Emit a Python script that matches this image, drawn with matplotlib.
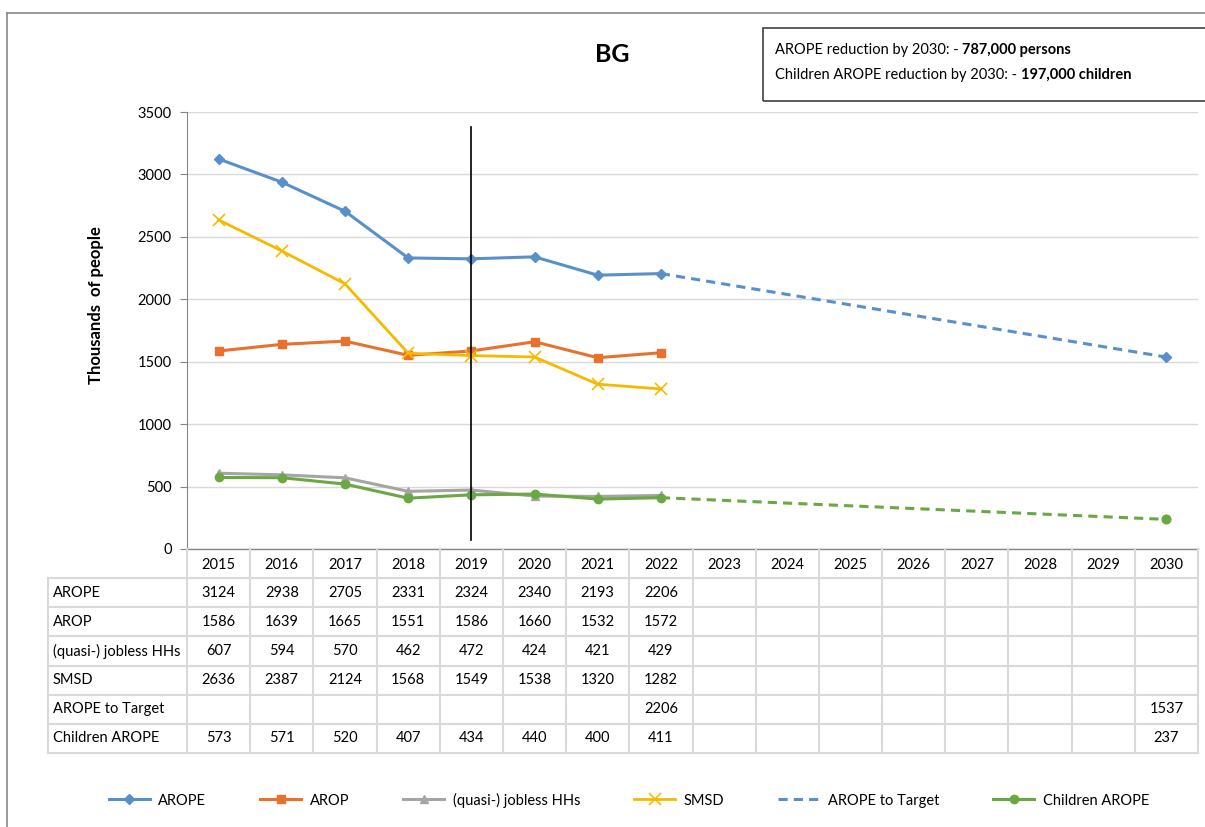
import numpy as np
import matplotlib.pyplot as plt
from matplotlib.lines import Line2D

plt.rcParams['font.family'] = ['Lato', 'DejaVu Sans']

years = [str(y) for y in range(2015, 2031)]
nan = np.nan
arope = [3124, 2938, 2705, 2331, 2324, 2340, 2193, 2206] + [nan] * 8
arop = [1586, 1639, 1665, 1551, 1586, 1660, 1532, 1572] + [nan] * 8
jobless = [607, 594, 570, 462, 472, 424, 421, 429] + [nan] * 8
smsd = [2636, 2387, 2124, 1568, 1549, 1538, 1320, 1282] + [nan] * 8
target = [nan] * 7 + [2206] + [nan] * 7 + [1537]
children = [573, 571, 520, 407, 434, 440, 400, 411] + [nan] * 7 + [237]

row_names = ["AROPE", "AROP", "(quasi-) jobless HHs", "SMSD", "AROPE to Target", "Children AROPE"]
rows = [arope, arop, jobless, smsd, target, children]

blue, orange, gray, gold, green = "#5890CB", "#E8712D", "#A5A5A5", "#F5BA00", "#6AA843"

W, H = 1205, 827
fig = plt.figure(figsize=(W / 100, H / 100), dpi=100)

def px(x0, y0, x1, y1):
    return [x0 / W, 1 - y1 / H, (x1 - x0) / W, (y1 - y0) / H]

# outer chart frame
fig.add_artist(Line2D([7 / W, 7 / W], [0, 1 - 13 / H], color="#888888", lw=1.2))
fig.add_artist(Line2D([7 / W, 1], [1 - 13 / H, 1 - 13 / H], color="#888888", lw=1.2))

ax = fig.add_axes(px(187, 112, 1198, 549))
x = np.arange(len(years))
ax.set_xlim(-0.5, len(years) - 0.5)
ax.set_ylim(0, 3500)
ax.set_yticks(range(0, 3501, 500))
ax.tick_params(axis="y", labelsize=10.5, color="#868686", length=5, pad=6)
ax.set_xticks([])
ax.grid(axis="y", color="#d9d9d9", lw=1)
ax.set_axisbelow(True)
for s in ["top", "right", "bottom"]:
    ax.spines[s].set_visible(False)
ax.spines["left"].set_color("#868686")
ax.set_ylabel("Thousands  of people", fontsize=12, fontweight="bold")
ax.yaxis.set_label_coords(-0.082, 0.558)

def series(vals):
    return np.array(vals, dtype=float)

ax.plot(x, series(arope), color=blue, lw=2.2, marker="D", ms=5.5, zorder=4)
ax.plot(x, series(arop), color=orange, lw=2.2, marker="s", ms=6, zorder=4)
ax.plot(x, series(jobless), color=gray, lw=2.2, marker="^", ms=6, zorder=3)
ax.plot(x, series(smsd), color=gold, lw=2.0, marker="x", ms=8, mew=1.2, zorder=4)
t = series(target)
m = ~np.isnan(t)
ax.plot(x[m], t[m], color=blue, lw=2.2, ls=(0, (3, 2)), marker="D", ms=5.5,
        markevery=[1], zorder=3)
c = series(children)
ax.plot(x, c, color=green, lw=2.2, marker="o", ms=6, zorder=5)
cm = ~np.isnan(c)
ax.plot(x[cm][-2:], c[cm][-2:], color=green, lw=2.2, ls=(0, (3, 2)), marker="o", ms=6,
        markevery=[1], zorder=3)

# marker line at 2019
ax.plot([4, 4], [70, 3380], color="black", lw=1.2, zorder=6)

fig.text(612 / W, 1 - 55 / H, "BG", fontsize=18, fontweight="bold", ha="center", va="center")

# data table below the axis
tab = fig.add_axes(px(48, 549, 1198, 753))
x_left = -0.5 - (187 - 48) / (1011 / 16)
tab.set_xlim(x_left, len(years) - 0.5)
tab.set_ylim(7, 0)
tab.axis("off")
lc = "#d9d9d9"
tab.plot([-0.5, len(years) - 0.5], [0, 0], color="#868686", lw=1, clip_on=False)
tab.plot([x_left, len(years) - 0.5], [1, 1], color=lc, lw=1.5, clip_on=False)
for r in range(2, 8):
    tab.plot([x_left, len(years) - 0.5], [r, r], color=lc, lw=1.5, clip_on=False)
tab.plot([x_left, x_left], [1, 7], color=lc, lw=1.5, clip_on=False)
for i in range(len(years) + 1):
    tab.plot([i - 0.5, i - 0.5], [0, 7], color=lc, lw=1.5, clip_on=False)
for i, yr in enumerate(years):
    tab.text(i, 0.55, yr, ha="center", va="center", fontsize=10.5)
for r, (name, vals) in enumerate(zip(row_names, rows), start=1):
    tab.text(x_left + 0.08, r + 0.5, name, ha="left", va="center", fontsize=10.5)
    for i, v in enumerate(vals):
        if not np.isnan(v):
            tab.text(i, r + 0.5, f"{int(v)}", ha="center", va="center", fontsize=10.5)

# annotation box: normal text followed by a bold part
renderer = fig.canvas.get_renderer()
for ypx, plain, bold in [(50, "AROPE reduction by 2030: - ", "787,000 persons"),
                         (75, "Children AROPE reduction by 2030: - ", "197,000 children")]:
    t1 = fig.text(775 / W, 1 - ypx / H, plain, fontsize=10.5, va="center")
    bb = t1.get_window_extent(renderer)
    fig.text(bb.x1 / W, 1 - ypx / H, bold, fontsize=10.5, va="center", fontweight="bold")
fig.add_artist(plt.Rectangle((763 / W, 1 - 101 / H), 460 / W, 73 / H, fill=False,
                             ec="#404040", lw=1.2, transform=fig.transFigure))

handles = [
    Line2D([], [], color=blue, lw=2.2, marker="D", ms=5.5),
    Line2D([], [], color=orange, lw=2.2, marker="s", ms=6),
    Line2D([], [], color=gray, lw=2.2, marker="^", ms=6),
    Line2D([], [], color=gold, lw=2.0, marker="x", ms=8, mew=1.2),
    Line2D([], [], color=blue, lw=2.2, ls=(0, (3, 2))),
    Line2D([], [], color=green, lw=2.2, marker="o", ms=6),
]
fig.legend(handles, row_names, loc="center", bbox_to_anchor=(0.522, 1 - 800 / H), ncol=6,
           frameon=False, fontsize=10.5, columnspacing=3.7, handlelength=2.8, handletextpad=0.6)

fig.savefig("out.png", dpi=100)
